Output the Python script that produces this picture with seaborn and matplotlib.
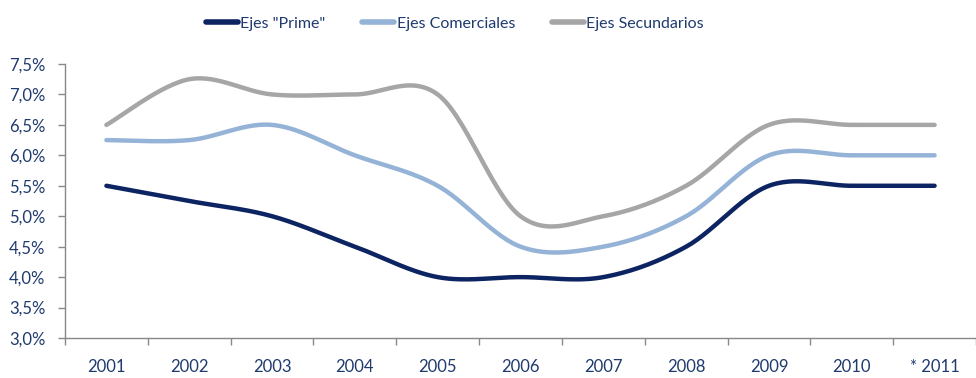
import numpy as np
import pandas as pd
import matplotlib
matplotlib.use("Agg")
import matplotlib.pyplot as plt
import seaborn as sns
from matplotlib.ticker import FuncFormatter
from matplotlib.lines import Line2D

years = ["2001", "2002", "2003", "2004", "2005", "2006", "2007", "2008", "2009", "2010", "* 2011"]
prime = [5.5, 5.25, 5.0, 4.5, 4.0, 4.0, 4.0, 4.5, 5.5, 5.5, 5.5]
comerciales = [6.25, 6.25, 6.5, 6.0, 5.5, 4.5, 4.5, 5.0, 6.0, 6.0, 6.0]
secundarios = [6.5, 7.25, 7.0, 7.0, 7.0, 5.0, 5.0, 5.5, 6.5, 6.5, 6.5]

series_names = ['Ejes "Prime"', "Ejes Comerciales", "Ejes Secundarios"]
series_values = [prime, comerciales, secundarios]
colors = ["#0C2461", "#95B3D7", "#A6A6A6"]
text_color = "#1F3A6E"


def smooth(values, steps=30):
    """Catmull-Rom curve through the points (Excel-style smoothed line)."""
    y = np.asarray(values, dtype=float)
    x = np.arange(len(y), dtype=float)
    px = np.concatenate([[x[0]], x, [x[-1]]])
    py = np.concatenate([[y[0]], y, [y[-1]]])
    xs, ys = [], []
    t = np.linspace(0, 1, steps, endpoint=False)
    for i in range(1, len(px) - 2):
        p0, p1, p2, p3 = py[i - 1], py[i], py[i + 1], py[i + 2]
        q0, q1, q2, q3 = px[i - 1], px[i], px[i + 1], px[i + 2]
        # cubic Bezier with control points from neighbouring points
        c1y = p1 + (p2 - p0) / 6
        c2y = p2 - (p3 - p1) / 6
        c1x = q1 + (q2 - q0) / 6
        c2x = q2 - (q3 - q1) / 6
        bx = (1 - t) ** 3 * q1 + 3 * (1 - t) ** 2 * t * c1x + 3 * (1 - t) * t ** 2 * c2x + t ** 3 * q2
        by = (1 - t) ** 3 * p1 + 3 * (1 - t) ** 2 * t * c1y + 3 * (1 - t) * t ** 2 * c2y + t ** 3 * p2
        xs.append(bx)
        ys.append(by)
    xs.append([x[-1]])
    ys.append([y[-1]])
    return np.concatenate(xs), np.concatenate(ys)


frames = []
for name, vals in zip(series_names, series_values):
    sx, sy = smooth(vals)
    frames.append(pd.DataFrame({"x": sx, "y": sy, "serie": name}))
df = pd.concat(frames, ignore_index=True)

sns.set_theme(style="white")
plt.rcParams["font.family"] = ["Lato", "DejaVu Sans"]

fig = plt.figure(figsize=(9.76, 3.78), dpi=100)
ax = fig.add_axes([65 / 976, 1 - 338 / 378, 1 - 65 / 976, (338 - 64) / 378])

sns.lineplot(data=df, x="x", y="y", hue="serie", palette=dict(zip(series_names, colors)),
             linewidth=3.2, ax=ax, legend=False, sort=False)
for line in ax.lines:
    line.set_solid_capstyle("round")

ax.set_xlim(-0.5, len(years) - 0.5)
ax.set_ylim(3.0, 7.5)
ax.set_yticks(np.arange(3.0, 7.51, 0.5))
ax.yaxis.set_major_formatter(FuncFormatter(lambda v, _: f"{v:.1f}%".replace(".", ",")))

# category labels at centres, tick marks at category boundaries
ax.set_xticks(np.arange(-0.5, len(years) + 0.5, 1.0))
ax.set_xticklabels([])
ax.set_xticks(np.arange(len(years)), minor=True)
ax.set_xticklabels(years, minor=True)
ax.tick_params(axis="x", which="major", length=5, width=1, color="#888888", direction="out", bottom=True)
ax.tick_params(axis="x", which="minor", length=0, pad=15, labelsize=12, labelcolor=text_color)
ax.tick_params(axis="y", which="major", length=5, width=1, color="#888888", direction="out", left=True,
               labelsize=12, labelcolor=text_color, pad=9)

ax.set_xlabel("")
ax.set_ylabel("")
for s in ["top", "right"]:
    ax.spines[s].set_visible(False)
for s in ["left", "bottom"]:
    ax.spines[s].set_color("#888888")
    ax.spines[s].set_linewidth(1)
ax.grid(False)

handles = [Line2D([0], [0], color=c, lw=4, solid_capstyle="round") for c in colors]
leg = fig.legend(handles, series_names, loc="center", bbox_to_anchor=(455 / 976, 1 - 24 / 378),
                 ncol=3, frameon=False, fontsize=11.5, handlelength=2.0, handletextpad=0.15,
                 columnspacing=2.3, labelcolor=text_color)

fig.savefig("out.png", dpi=100)
